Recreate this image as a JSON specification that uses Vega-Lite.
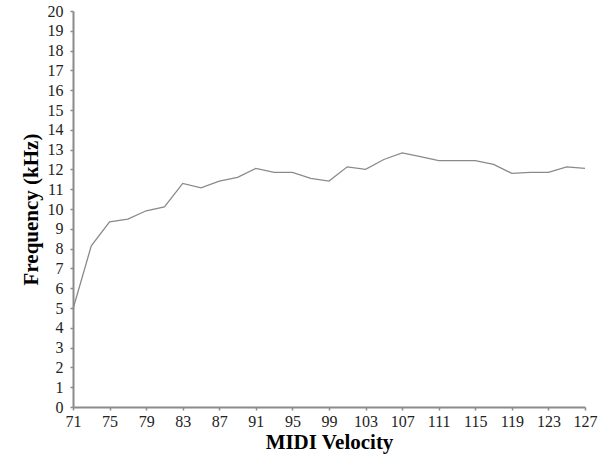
{
  "$schema": "https://vega.github.io/schema/vega-lite/v6.json",
  "width": 512,
  "height": 396,
  "autosize": {"type": "none"},
  "padding": {"left": 73, "top": 11, "right": 20, "bottom": 47},
  "background": "white",
  "data": {
    "values": [
      {"velocity": 71, "freq": 4.95},
      {"velocity": 73, "freq": 8.14},
      {"velocity": 75, "freq": 9.35},
      {"velocity": 77, "freq": 9.49},
      {"velocity": 79, "freq": 9.91},
      {"velocity": 81, "freq": 10.11},
      {"velocity": 83, "freq": 11.29},
      {"velocity": 85, "freq": 11.07},
      {"velocity": 87, "freq": 11.41},
      {"velocity": 89, "freq": 11.6},
      {"velocity": 91, "freq": 12.05},
      {"velocity": 93, "freq": 11.85},
      {"velocity": 95, "freq": 11.85},
      {"velocity": 97, "freq": 11.55},
      {"velocity": 99, "freq": 11.41},
      {"velocity": 101, "freq": 12.13},
      {"velocity": 103, "freq": 12.0},
      {"velocity": 105, "freq": 12.5},
      {"velocity": 107, "freq": 12.83},
      {"velocity": 109, "freq": 12.64},
      {"velocity": 111, "freq": 12.44},
      {"velocity": 113, "freq": 12.44},
      {"velocity": 115, "freq": 12.44},
      {"velocity": 117, "freq": 12.25},
      {"velocity": 119, "freq": 11.8},
      {"velocity": 121, "freq": 11.85},
      {"velocity": 123, "freq": 11.85},
      {"velocity": 125, "freq": 12.13},
      {"velocity": 127, "freq": 12.05}
    ]
  },
  "mark": {"type": "line", "color": "#8a8a8a", "strokeWidth": 1.3},
  "encoding": {
    "x": {
      "field": "velocity",
      "type": "quantitative",
      "scale": {"domain": [71, 127], "nice": false, "zero": false},
      "axis": {
        "values": [71, 75, 79, 83, 87, 91, 95, 99, 103, 107, 111, 115, 119, 123, 127],
        "title": "MIDI Velocity",
        "titleFont": "Liberation Serif",
        "titleFontSize": 21,
        "titleFontWeight": "bold",
        "titleColor": "black",
        "titlePadding": 2,
        "labelFont": "Liberation Serif",
        "labelFontSize": 16,
        "labelColor": "#222",
        "labelPadding": 3,
        "labelFlush": false,
        "labelOverlap": false,
        "grid": false,
        "domainColor": "#8a8a8a",
        "domainWidth": 2,
        "tickColor": "#8a8a8a",
        "tickWidth": 1.5,
        "tickSize": 3
      }
    },
    "y": {
      "field": "freq",
      "type": "quantitative",
      "scale": {"domain": [0, 20], "nice": false},
      "axis": {
        "values": [0,1,2,3,4,5,6,7,8,9,10,11,12,13,14,15,16,17,18,19,20],
        "title": "Frequency (kHz)",
        "titleFont": "Liberation Serif",
        "titleFontSize": 21,
        "titleFontWeight": "bold",
        "titleColor": "black",
        "titlePadding": 6,
        "labelFont": "Liberation Serif",
        "labelFontSize": 16,
        "labelColor": "#222",
        "labelPadding": 7,
        "labelFlush": false,
        "labelOverlap": false,
        "grid": false,
        "domainColor": "#8a8a8a",
        "domainWidth": 2,
        "tickColor": "#8a8a8a",
        "tickWidth": 1.5,
        "tickSize": 3
      }
    }
  },
  "config": {"view": {"stroke": null}}
}
